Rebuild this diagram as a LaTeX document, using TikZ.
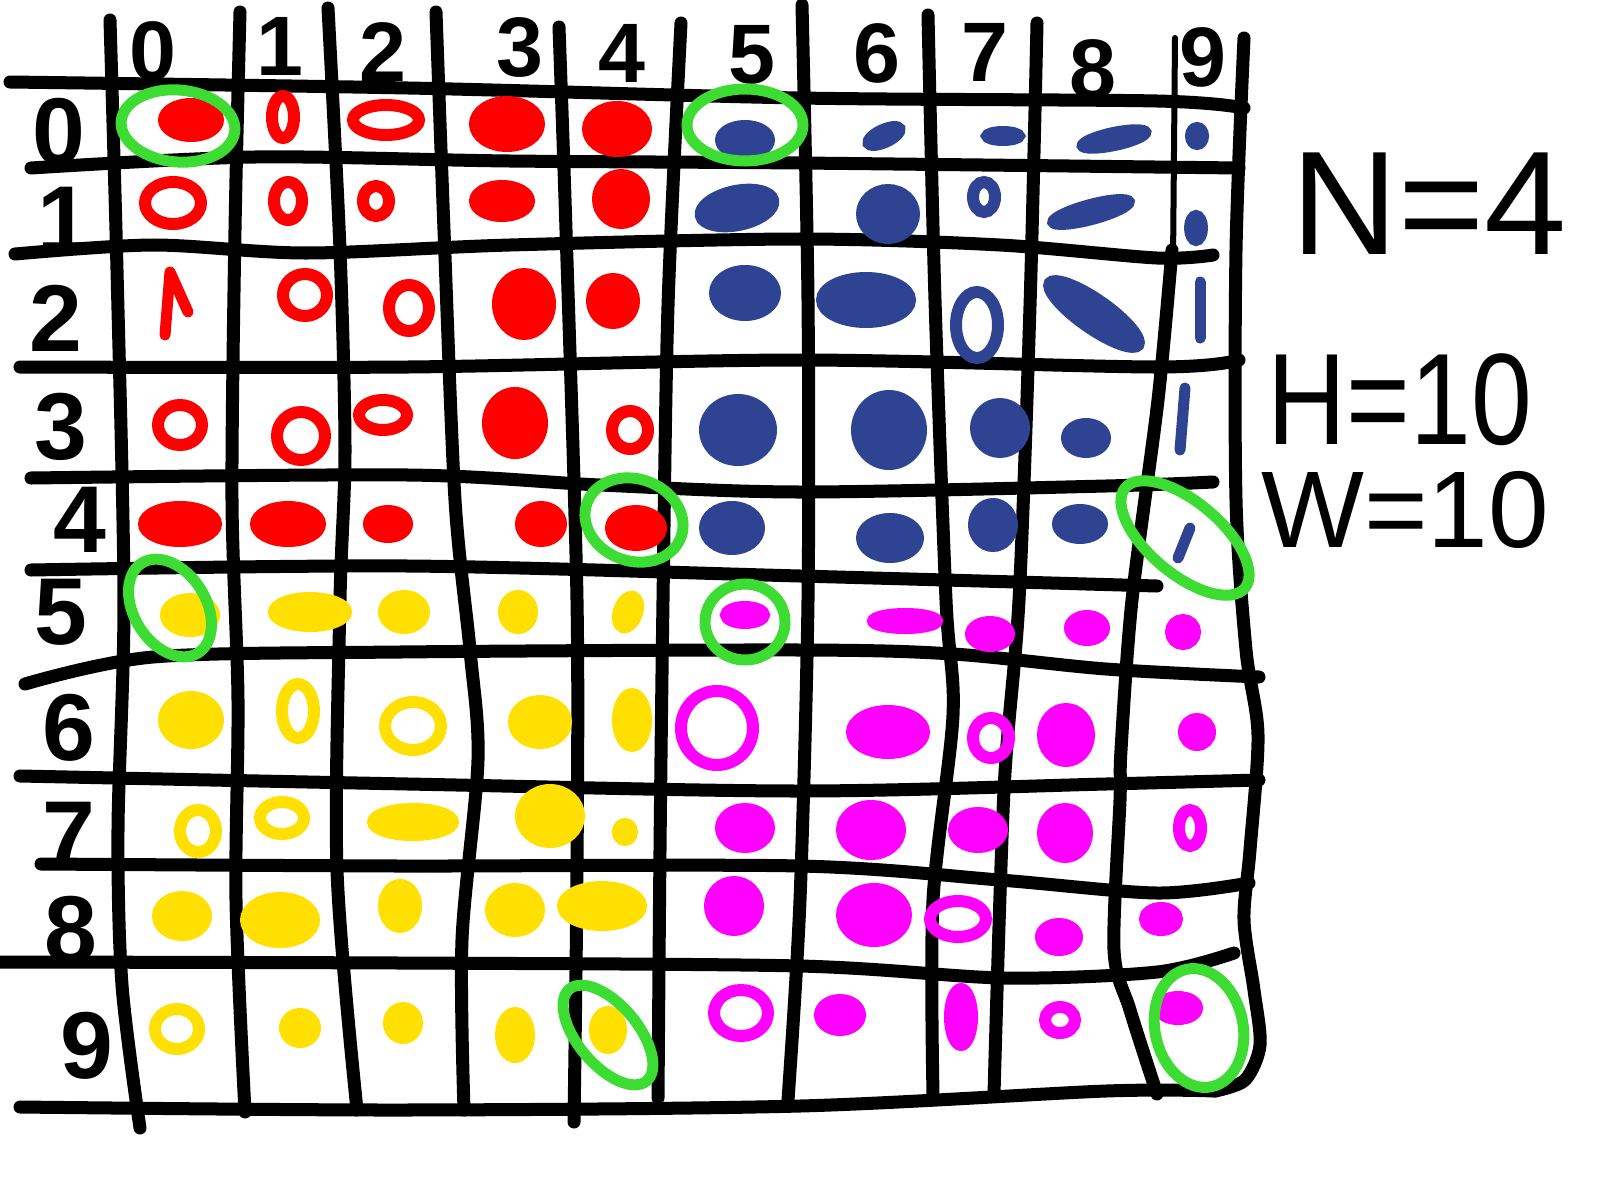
\documentclass[tikz,border=0pt]{standalone}
\usepackage{graphicx}
\usepackage{fontspec}
\setmainfont{Liberation Sans}
\definecolor{hred}{RGB}{255,0,0}
\definecolor{hblue}{RGB}{46,68,146}
\definecolor{hyellow}{RGB}{255,224,0}
\definecolor{hpink}{RGB}{255,0,255}
\definecolor{hgreen}{RGB}{60,220,50}

\begin{document}
\begin{tikzpicture}[x=0.01cm,y=-0.01cm,
  gridline/.style={line width=1.3mm,line cap=round,line join=round},
  blobfill/.style={line width=1mm,fill},
  blobring/.style={line width=1.2mm},
  blobstroke/.style={line width=1.1mm,line cap=round,line join=round},
  hit/.style={hgreen,line width=1.1mm},
  collabel/.style={font=\bfseries\fontsize{24}{24}\selectfont,inner sep=0pt},
  rowlabel/.style={font=\bfseries\fontsize{27}{27}\selectfont,inner sep=0pt},
  sizelabel/.style={inner sep=0pt}]

\useasboundingbox (0,0) rectangle (1600,1200);

% Grid columns
\draw[gridline] plot[smooth] coordinates {(110,20) (117,270) (124,600) (118,830) (122,985) (140,1128)};
\draw[gridline] plot[smooth] coordinates {(240,12) (235,230) (232,500) (238,700) (236,900) (245,1112)};
\draw[gridline] plot[smooth] coordinates {(328,8) (340,250) (345,450) (340,600) (337,870) (357,1110)};
\draw[gridline] plot[smooth] coordinates {(436,12) (444,230) (455,500) (470,650) (478,760) (462,940) (464,1110)};
\draw[gridline] plot[smooth] coordinates {(559,27) (566,230) (577,600) (577,870) (574,1122)};
\draw[gridline] plot[smooth] coordinates {(681,23) (668,306) (663,600) (660,850) (658,1098)};
\draw[gridline] plot[smooth] coordinates {(802,5) (808,300) (808,600) (800,900) (788,1100)};
\draw[gridline] plot[smooth] coordinates {(928,15) (935,300) (946,600) (953,715) (933,900) (933,1095)};
\draw[gridline] plot[smooth] coordinates {(1037,23) (1030,306) (1019,600) (1004,790) (994,1094)};
\draw[gridline,line width=0.6mm] (1175,38) -- (1173,262);
\draw[gridline] plot[smooth] coordinates {(1172,250) (1158,400) (1132,600) (1121,750) (1120,800) (1114,950) (1130,1010) (1157,1094)};
\draw[gridline] plot[smooth] coordinates {(1244,38) (1236,250) (1236,500) (1246,650) (1258,735) (1250,850) (1244,920) (1254,990) (1260,1045) (1245,1080) (1215,1091)};

% Grid rows
\draw[gridline] plot[smooth] coordinates {(10,82) (408,88) (800,98) (1157,101) (1244,108)};
\draw[gridline] plot[smooth] coordinates {(31,168) (255,157) (510,161) (800,163) (1239,168)};
\draw[gridline] plot[smooth] coordinates {(15,254) (153,245) (306,253) (510,245) (800,239) (1000,245) (1157,258) (1213,255)};
\draw[gridline] plot[smooth] coordinates {(20,367) (408,367) (800,360) (1157,367) (1239,360)};
\draw[gridline] plot[smooth] coordinates {(31,478) (408,475) (600,485) (800,492) (1106,486) (1213,482)};
\draw[gridline] plot[smooth] coordinates {(31,570) (408,566) (800,576) (1157,586)};
\draw[gridline] plot[smooth] coordinates {(25,684) (153,657) (400,652) (800,650) (953,654) (1106,669) (1259,677)};
\draw[gridline] plot[smooth] coordinates {(20,776) (408,784) (800,791) (1106,784) (1259,780)};
\draw[gridline] plot[smooth] coordinates {(41,864) (400,866) (800,866) (1000,880) (1157,893) (1249,883)};
\draw[gridline] plot[smooth] coordinates {(0,962) (400,963) (800,966) (1004,978) (1157,972) (1234,953)};
\draw[gridline] plot[smooth] coordinates {(20,1107) (400,1110) (800,1106) (1106,1091) (1215,1091)};

% Column and row numbers
\foreach \i/\x/\y in {0/153/51,1/280/46,2/383/52,3/520/48,4/622/53,5/752/55,6/877/53,7/985/52,8/1093/69,9/1203/57}
  \node[collabel] (c\i) at (\x,\y) {\i};
\foreach \i/\x/\y in {0/59/132,1/64/220,2/56/318,3/61/427,4/80/520,5/61/612,6/69/728,7/69/835,8/71/930,9/87/1046}
  \node[rowlabel] (r\i) at (\x,\y) {\i};

% Red blobs
\foreach \x/\y/\a/\b/\k in {191/120/28/17/blobfill, 283/117/11/21/blobring, 386/120/33/15/blobring, 507/124/33/23/blobfill, 617/129/30/23/blobfill,
  173/203/28/21/blobring, 288/201/14/19/blobring, 376/201/13/15/blobring, 502/201/28/16/blobfill, 621/199/24/25/blobfill,
  305/295/22/21/blobring, 409/308/20/23/blobring, 524/304/27/31/blobfill, 613/301/22/23/blobfill,
  180/425/22/20/blobring, 301/436/24/24/blobring, 383/415/24/15/blobring, 515/423/28/31/blobfill, 630/430/18/19/blobring,
  180/524/37/18/blobfill, 288/524/33/18/blobfill, 388/524/20/14/blobfill, 541/524/21/18/blobfill, 636/528/26/18/blobfill}
  \draw[hred,\k] (\x,\y) ellipse [x radius=\a, y radius=\b];
\draw[hred,blobstroke] (165,335) -- (170,272) -- (188,312);

% Blue blobs
\foreach \x/\y/\a/\b/\k in {745/140/25/15/blobfill, 1003/136/17/5/blobfill, 1197/136/7/9/blobfill,
  888/214/27/25/blobfill, 984/197/11/15/blobring, 1196/228/7/13/blobfill,
  745/293/31/23/blobfill, 866/300/45/23/blobfill, 977/325/21/33/blobring,
  738/430/34/31/blobfill, 889/430/33/35/blobfill, 1000/428/25/25/blobfill, 1086/438/20/15/blobfill,
  732/528/28/22/blobfill, 890/538/29/20/blobfill, 993/525/20/22/blobfill, 1080/524/23/15/blobfill}
  \draw[hblue,\k] (\x,\y) ellipse [x radius=\a, y radius=\b];
\draw[hblue,blobfill,rotate around={25:(884,136)}] (884,136) ellipse [x radius=18, y radius=7];
\draw[hblue,blobfill,rotate around={12:(1114,139)}] (1114,139) ellipse [x radius=33, y radius=7];
\draw[hblue,blobfill,rotate around={12:(737,208)}] (737,208) ellipse [x radius=38, y radius=18];
\draw[hblue,blobfill,rotate around={15:(1091,212)}] (1091,212) ellipse [x radius=40, y radius=8];
\draw[hblue,blobfill,rotate around={-35:(1094,314)}] (1094,314) ellipse [x radius=55, y radius=15];
\draw[hblue,blobstroke] (1200,282) -- (1200,338);
\draw[hblue,blobstroke] (1185,388) -- (1180,450);
\draw[hblue,blobstroke] (1190,528) -- (1178,558);

% Yellow blobs
\foreach \x/\y/\a/\b/\k in {190/615/25/17/blobfill, 310/612/37/15/blobfill, 404/612/21/17/blobfill, 518/612/15/17/blobfill,
  191/720/28/24/blobfill, 298/711/16/27/blobring, 413/726/28/24/blobring, 540/722/27/22/blobfill, 632/720/15/27/blobfill,
  198/831/18/21/blobring, 282/818/22/16/blobring, 413/822/41/14/blobfill, 550/816/30/27/blobfill, 625/832/8/9/blobfill,
  182/916/25/20/blobfill, 280/920/35/23/blobfill, 400/906/17/22/blobfill, 515/910/25/22/blobfill, 602/906/40/20/blobfill,
  177/1029/22/20/blobring, 300/1028/16/15/blobfill, 403/1023/15/16/blobfill, 515/1035/15/23/blobfill, 608/1030/14/19/blobfill}
  \draw[hyellow,\k] (\x,\y) ellipse [x radius=\a, y radius=\b];
\draw[hyellow,blobfill,rotate around={-20:(628,612)}] (628,612) ellipse [x radius=10, y radius=17];

% Magenta blobs
\foreach \x/\y/\a/\b/\k in {745/615/20/9/blobfill, 905/621/33/8/blobfill, 990/634/20/13/blobfill, 1087/628/18/13/blobfill, 1183/632/13/13/blobfill,
  717/728/36/37/blobring, 888/732/37/22/blobfill, 991/738/18/20/blobring, 1066/735/24/27/blobfill, 1197/732/14/14/blobfill,
  745/828/25/20/blobfill, 871/830/30/25/blobfill, 978/830/25/18/blobfill, 1065/833/23/25/blobfill, 1190/828/11/18/blobring,
  734/906/25/25/blobfill, 874/915/33/27/blobfill, 958/919/28/18/blobring, 1059/937/19/14/blobfill, 1161/919/17/12/blobfill,
  741/1013/27/23/blobring, 840/1015/21/16/blobfill, 961/1017/12/29/blobfill, 1060/1020/15/13/blobring, 1178/1008/20/12/blobfill}
  \draw[hpink,\k] (\x,\y) ellipse [x radius=\a, y radius=\b];

% Green rings
\draw[hit,rotate around={-5:(178,126)}] (178,126) ellipse [x radius=57, y radius=36];
\draw[hit] (745,125) ellipse [x radius=58, y radius=36];
\draw[hit,rotate around={-20:(634,520)}] (634,520) ellipse [x radius=50, y radius=41];
\draw[hit,rotate around={-40:(1185,538)}] (1185,538) ellipse [x radius=78, y radius=36];
\draw[hit,rotate around={-58:(170,608)}] (170,608) ellipse [x radius=53, y radius=36];
\draw[hit] (745,622) ellipse [x radius=40, y radius=38];
\draw[hit,rotate around={-50:(608,1035)}] (608,1035) ellipse [x radius=60, y radius=30];
\draw[hit,rotate around={12:(1199,1028)}] (1199,1028) ellipse [x radius=44, y radius=60];

% Sizes
\node[sizelabel,font=\fontsize{42}{42}\selectfont] (nN) at (1429,204) {N=4};
\node[sizelabel,font=\fontsize{37}{37}\selectfont] (nH) at (1400,400) {\scalebox{0.84}[1]{H=10}};
\node[sizelabel,font=\fontsize{31}{31}\selectfont] (nW) at (1405,510) {W=10};

\end{tikzpicture}
\end{document}
